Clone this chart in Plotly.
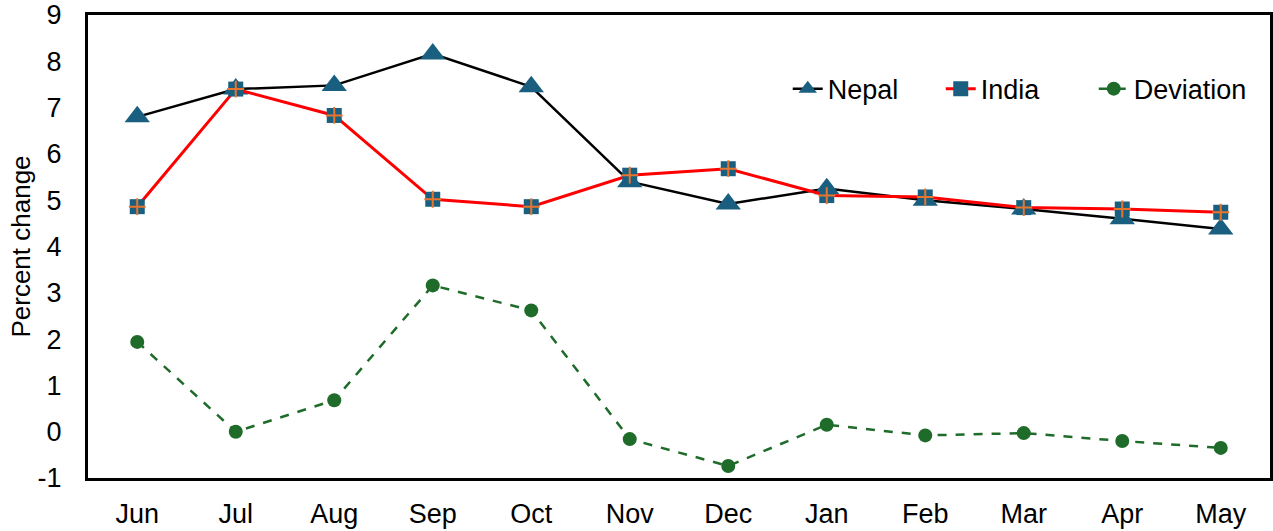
import plotly.graph_objects as go

months = ["Jun", "Jul", "Aug", "Sep", "Oct", "Nov", "Dec", "Jan", "Feb", "Mar", "Apr", "May"]
nepal = [6.80, 7.40, 7.48, 8.16, 7.45, 5.40, 4.92, 5.25, 5.00, 4.81, 4.60, 4.38]
india = [4.86, 7.40, 6.83, 5.02, 4.86, 5.54, 5.68, 5.10, 5.07, 4.84, 4.81, 4.74]
deviation = [1.94, 0.0, 0.68, 3.16, 2.62, -0.16, -0.74, 0.15, -0.08, -0.03, -0.20, -0.35]
y_ticks = [-1, 0, 1, 2, 3, 4, 5, 6, 7, 8, 9]
y_ticktext = ["-1", "0", "1", "2", "3", "4", "5", "6", "7", "8", "9"]

teal = "#1A5F80"
font = "Liberation Sans, Arial, sans-serif"
fs = 27

fig = go.Figure()
fig.add_trace(go.Scatter(
    x=months, y=nepal, name="Nepal", mode="lines+markers",
    line=dict(color="black", width=2.5),
    marker=dict(symbol="triangle-up", size=22, color=teal),
))
fig.add_trace(go.Scatter(
    x=months, y=india, name="India", mode="lines+markers",
    line=dict(color="#FF0000", width=3),
    marker=dict(symbol="square", size=15, color=teal),
))
fig.add_trace(go.Scatter(
    x=months, y=india, name="India", mode="markers", showlegend=False,
    marker=dict(symbol="cross-thin", size=12, color="#E8752E",
                line=dict(color="#E8752E", width=2)),
    hoverinfo="skip",
))
fig.add_trace(go.Scatter(
    x=months, y=deviation, name="Deviation", mode="lines+markers",
    line=dict(color="#1E6B2A", width=2.5, dash="dash"),
    marker=dict(symbol="circle", size=14, color="#1E6B2A"),
))

fig.update_layout(
    width=1273, height=531,
    margin=dict(l=88, r=3, t=15, b=53, autoexpand=False),
    paper_bgcolor="white", plot_bgcolor="white",
    font=dict(family=font, size=fs, color="black"),
    showlegend=True,
    legend=dict(orientation="h", x=0.592, y=0.84, xanchor="left", yanchor="middle",
                entrywidth=108, entrywidthmode="pixels",
                font=dict(size=fs), bgcolor="rgba(0,0,0,0)"),
    xaxis=dict(type="category", range=[-0.5, 11.5], showgrid=False, zeroline=False,
               showline=True, linecolor="black", linewidth=3, mirror=True,
               ticks="outside", ticklen=10, tickcolor="rgba(0,0,0,0)",
               tickfont=dict(size=fs, family=font)),
    yaxis=dict(range=[-1, 9], tickvals=y_ticks, ticktext=y_ticktext,
               showgrid=False, zeroline=False,
               showline=True, linecolor="black", linewidth=3, mirror=True,
               ticks="outside", ticklen=18, tickcolor="rgba(0,0,0,0)",
               tickfont=dict(size=fs, family=font),
               title=dict(text="Percent change", font=dict(size=26, family=font), standoff=0)),
)

fig.write_html("out.html")
